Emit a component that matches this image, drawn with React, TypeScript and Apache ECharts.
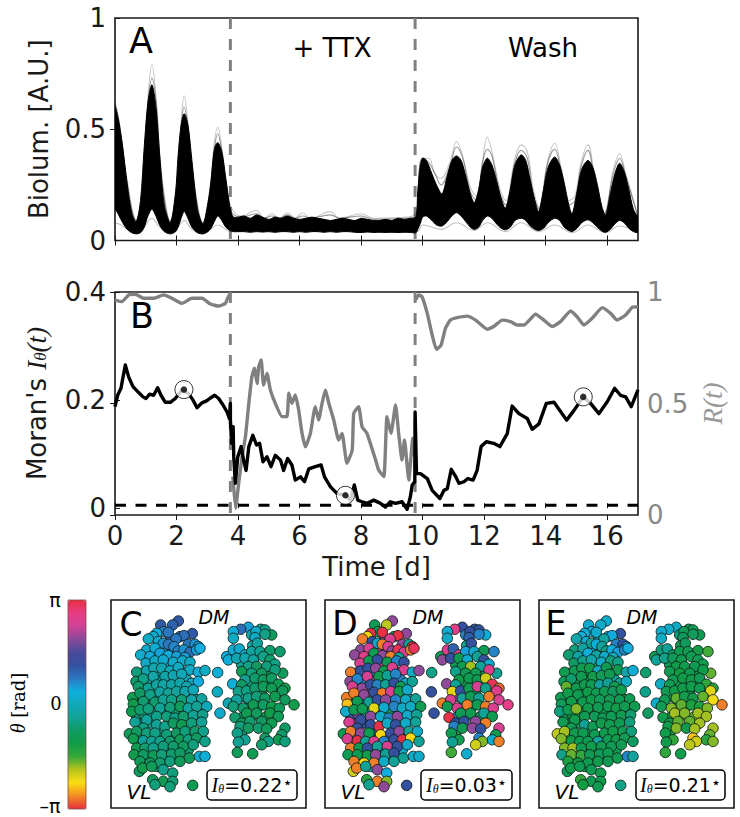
import React, { useEffect, useRef } from "react";
import * as echarts from "echarts";

const dayTicks = [0, 2, 4, 6, 8, 10, 12, 14, 16];
const biolumTicks = [0, 0.5, 1];
const moranTicks = [0, 0.2, 0.4];
const orderTicks = [0, 0.5, 1];
const treatmentBoundaries = [3.75, 9.755];
const moranNull = 0.0056;

const bandTime = [
  0, 0.1, 0.25, 0.4, 0.55, 0.69, 0.83, 0.95, 1.07, 1.2, 1.33, 1.45, 1.6, 1.8, 1.97, 2.05, 2.15, 2.25, 2.37, 2.5, 2.68, 2.86, 3.02, 3.12, 3.23, 3.34, 3.47, 3.6, 3.75, 3.85,
  4.0, 4.2, 4.4, 4.6, 4.8, 5.0, 5.2, 5.4, 5.6, 5.8, 6.0, 6.2, 6.4, 6.6, 6.8, 7.0, 7.2, 7.4, 7.6, 7.8, 8.0, 8.2, 8.4, 8.6, 8.8, 9.0, 9.2, 9.4, 9.6, 9.78,
  9.84, 9.92, 10.0, 10.12, 10.3, 10.45, 10.63, 10.8, 10.95, 11.1, 11.25, 11.4, 11.55, 11.68, 11.82, 11.95, 12.1, 12.25, 12.4, 12.55, 12.69, 12.85, 13.0, 13.2, 13.35, 13.5, 13.65, 13.77, 13.93, 14.08, 14.29, 14.45, 14.6, 14.75, 14.86, 15.02, 15.17, 15.37, 15.53, 15.68, 15.83, 15.95, 16.1, 16.25, 16.4, 16.55, 16.7, 16.85, 17,
];
const bandUpper = [
  0.6, 0.55, 0.42, 0.25, 0.12, 0.085, 0.18, 0.42, 0.62, 0.7, 0.6, 0.39, 0.16, 0.08, 0.22, 0.38, 0.52, 0.57, 0.52, 0.36, 0.14, 0.075, 0.17, 0.27, 0.41, 0.44, 0.4, 0.28, 0.14, 0.105,
  0.105, 0.11, 0.1, 0.115, 0.105, 0.095, 0.105, 0.1, 0.11, 0.1, 0.095, 0.1, 0.105, 0.1, 0.095, 0.09, 0.095, 0.1, 0.095, 0.09, 0.1, 0.095, 0.09, 0.09, 0.095, 0.09, 0.1, 0.095, 0.1, 0.105,
  0.22, 0.33, 0.37, 0.36, 0.3, 0.25, 0.21, 0.29, 0.36, 0.38, 0.36, 0.29, 0.21, 0.17, 0.23, 0.33, 0.37, 0.34, 0.27, 0.19, 0.145, 0.23, 0.34, 0.385, 0.36, 0.27, 0.18, 0.13, 0.23, 0.33, 0.375, 0.34, 0.26, 0.16, 0.12, 0.22, 0.32, 0.36, 0.33, 0.25, 0.15, 0.115, 0.21, 0.3, 0.347, 0.31, 0.23, 0.14, 0.1,
];
const bandLower = [
  0.15, 0.12, 0.08, 0.05, 0.035, 0.03, 0.035, 0.06, 0.11, 0.14, 0.11, 0.07, 0.04, 0.03, 0.04, 0.06, 0.1, 0.13, 0.1, 0.06, 0.035, 0.03, 0.04, 0.055, 0.085, 0.11, 0.09, 0.06, 0.045, 0.04,
  0.04, 0.04, 0.037, 0.04, 0.038, 0.04, 0.037, 0.04, 0.04, 0.037, 0.04, 0.037, 0.04, 0.04, 0.037, 0.04, 0.037, 0.04, 0.04, 0.037, 0.036, 0.038, 0.036, 0.037, 0.036, 0.037, 0.036, 0.037, 0.036, 0.035,
  0.05, 0.075, 0.105, 0.11, 0.09, 0.07, 0.065, 0.085, 0.11, 0.125, 0.11, 0.085, 0.06, 0.05, 0.06, 0.09, 0.11, 0.1, 0.075, 0.055, 0.048, 0.06, 0.09, 0.1, 0.09, 0.065, 0.05, 0.045, 0.055, 0.08, 0.1, 0.09, 0.06, 0.045, 0.04, 0.055, 0.08, 0.093, 0.08, 0.06, 0.042, 0.037, 0.05, 0.075, 0.09, 0.08, 0.055, 0.04, 0.037,
];

const highTraceTime = [0, 0.15, 0.4, 0.69, 0.9, 1.05, 1.2, 1.35, 1.5, 1.8, 2.0, 2.13, 2.25, 2.38, 2.52, 2.86, 3.07, 3.22, 3.34, 3.47, 3.62, 3.78, 4.1, 4.6, 4.85, 5.1, 5.35, 5.6, 5.85, 6.1, 6.35, 7.0, 7.3, 8.0, 8.4, 9.5, 9.8, 9.9, 10.0, 10.2, 10.4, 10.6, 10.9, 11.1, 11.3, 11.55, 11.75, 11.95, 12.1, 12.25, 12.5, 12.7, 13.0, 13.2, 13.4, 13.6, 13.8, 14.05, 14.29, 14.5, 14.75, 14.95, 15.15, 15.37, 15.6, 15.9, 16.2, 16.4, 16.6, 17];
const highTraceA = [0.63, 0.52, 0.27, 0.09, 0.22, 0.6, 0.79, 0.62, 0.32, 0.09, 0.23, 0.5, 0.65, 0.52, 0.32, 0.08, 0.2, 0.43, 0.51, 0.42, 0.26, 0.15, 0.11, 0.135, 0.1, 0.12, 0.1, 0.125, 0.1, 0.125, 0.1, 0.13, 0.1, 0.12, 0.1, 0.105, 0.13, 0.34, 0.37, 0.37, 0.3, 0.28, 0.36, 0.445, 0.38, 0.24, 0.2, 0.36, 0.465, 0.4, 0.24, 0.18, 0.37, 0.43, 0.4, 0.23, 0.15, 0.35, 0.437, 0.33, 0.18, 0.2, 0.35, 0.43, 0.28, 0.12, 0.32, 0.39, 0.3, 0.11];
const highTraceB = [0.61, 0.52, 0.25, 0.09, 0.2, 0.58, 0.73, 0.6, 0.3, 0.085, 0.2, 0.47, 0.6, 0.5, 0.3, 0.08, 0.18, 0.4, 0.48, 0.4, 0.24, 0.13, 0.105, 0.12, 0.1, 0.11, 0.1, 0.115, 0.1, 0.11, 0.1, 0.115, 0.1, 0.11, 0.095, 0.1, 0.11, 0.33, 0.37, 0.35, 0.3, 0.25, 0.34, 0.42, 0.37, 0.22, 0.18, 0.35, 0.41, 0.38, 0.22, 0.16, 0.35, 0.405, 0.37, 0.2, 0.14, 0.34, 0.41, 0.31, 0.16, 0.18, 0.33, 0.405, 0.26, 0.12, 0.3, 0.37, 0.29, 0.105];
const lowTraceTime = [0, 0.2, 0.5, 0.69, 0.9, 1.2, 1.45, 1.8, 2.0, 2.25, 2.5, 2.86, 3.1, 3.35, 3.6, 3.8, 9.82, 10.0, 10.6, 11.1, 11.68, 12.1, 12.69, 13.2, 13.77, 14.29, 14.86, 15.37, 15.95, 16.4, 17];
const lowTrace = [0.08, 0.07, 0.04, 0.03, 0.05, 0.1, 0.06, 0.03, 0.05, 0.09, 0.05, 0.03, 0.05, 0.07, 0.05, 0.04, 0.04, 0.07, 0.05, 0.08, 0.045, 0.08, 0.04, 0.08, 0.04, 0.07, 0.035, 0.07, 0.035, 0.065, 0.035];

const moranTime = [
  0, 0.086, 0.194, 0.335, 0.443, 0.584, 0.769, 0.91, 1.007, 1.126, 1.256, 1.386, 1.495, 1.636, 1.799, 1.961, 2.178, 2.395, 2.536, 2.666, 2.828, 2.991, 3.077, 3.24, 3.37, 3.511, 3.641, 3.717, 3.75, 3.751, 3.79, 3.84, 3.86, 3.912, 3.99, 4.1, 4.18, 4.26, 4.35, 4.48, 4.6, 4.7, 4.81, 4.94, 5.07, 5.21, 5.38, 5.48, 5.61, 5.75, 5.86, 6.03, 6.16, 6.3, 6.51, 6.7, 6.81, 7.0, 7.22, 7.49, 7.65, 7.78, 7.89, 8.03, 8.2, 8.41, 8.63, 8.79, 8.95, 9.12, 9.33, 9.495, 9.6, 9.66, 9.745, 9.755, 9.8, 9.93, 10.15, 10.31, 10.56, 10.69, 10.8, 10.93, 11.07, 11.18, 11.34, 11.47, 11.64, 11.77, 11.9, 12.07, 12.31, 12.51, 12.75, 12.91, 13.13, 13.4, 13.56, 13.78, 14.02, 14.27, 14.68, 14.92, 15.22, 15.46, 15.73, 16.0, 16.24, 16.43, 16.6, 16.78, 17,
];
const moranValues = [
  0.188, 0.209, 0.222, 0.265, 0.243, 0.225, 0.214, 0.206, 0.203, 0.211, 0.209, 0.223, 0.209, 0.196, 0.196, 0.203, 0.219, 0.212, 0.2, 0.186, 0.195, 0.199, 0.203, 0.209, 0.203, 0.191, 0.178, 0.166, 0.194, 0.163, 0.12, 0.151, 0.095, 0.046, 0.095, 0.114, 0.089, 0.07, 0.114, 0.135, 0.117, 0.12, 0.086, 0.095, 0.077, 0.098, 0.089, 0.07, 0.092, 0.08, 0.052, 0.058, 0.049, 0.073, 0.077, 0.08, 0.058, 0.04, 0.027, 0.024, 0.015, 0.043, 0.015, 0.012, 0.009, 0.015, 0.009, 0.002, 0.012, 0.009, 0.012, -0.002, 0.021, 0.043, 0.049, 0.178, 0.064, 0.064, 0.055, 0.033, 0.018, 0.033, 0.036, 0.072, 0.059, 0.046, 0.049, 0.055, 0.052, 0.07, 0.114, 0.123, 0.12, 0.114, 0.138, 0.189, 0.175, 0.166, 0.146, 0.156, 0.194, 0.196, 0.163, 0.181, 0.206, 0.194, 0.175, 0.197, 0.222, 0.209, 0.206, 0.188, 0.219,
];
const orderTime = [
  0, 0.227, 0.443, 0.66, 0.93, 1.256, 1.58, 1.85, 2.18, 2.5, 2.83, 3.1, 3.37, 3.59, 3.66, 3.75, 3.77, 3.83, 3.92, 4.02, 4.13, 4.24, 4.35, 4.45, 4.53, 4.62, 4.67, 4.75, 4.83, 4.94, 5.05, 5.21, 5.43, 5.59, 5.65, 5.75, 5.86, 5.97, 6.08, 6.19, 6.35, 6.51, 6.62, 6.73, 6.84, 6.95, 7.11, 7.27, 7.38, 7.54, 7.71, 7.76, 7.92, 8.03, 8.19, 8.47, 8.57, 8.74, 8.84, 8.97, 9.12, 9.22, 9.33, 9.41, 9.55, 9.68, 9.745, 9.76, 9.77, 9.87, 9.98, 10.15, 10.31, 10.45, 10.6, 10.74, 10.9, 11.12, 11.45, 11.72, 12.1, 12.31, 12.58, 12.86, 13.07, 13.29, 13.67, 13.94, 14.21, 14.48, 14.81, 15.02, 15.24, 15.51, 15.84, 16.11, 16.32, 16.6, 16.81, 17,
];
const orderValues = [
  0.964, 0.957, 0.987, 0.99, 0.972, 0.972, 0.987, 0.972, 0.949, 0.972, 0.972, 0.946, 0.937, 0.949, 0.972, 0.994, null, 0.172, 0.03, 0.142, 0.262, 0.351, 0.501, 0.62, 0.658, 0.59, 0.665, 0.695, 0.583, 0.635, 0.561, 0.501, 0.441, 0.441, 0.546, 0.501, 0.538, 0.471, 0.366, 0.306, 0.366, 0.486, 0.426, 0.501, 0.561, 0.501, 0.426, 0.336, 0.366, 0.232, 0.291, 0.456, 0.486, 0.396, 0.366, 0.247, 0.202, 0.172, 0.441, 0.366, 0.493, 0.366, 0.247, 0.336, 0.157, 0.344, 0.262, null, 0.964, 0.987, 0.979, 0.904, 0.807, 0.743, 0.762, 0.837, 0.874, 0.885, 0.892, 0.874, 0.833, 0.845, 0.874, 0.867, 0.852, 0.852, 0.9, 0.874, 0.845, 0.867, 0.915, 0.889, 0.852, 0.882, 0.93, 0.904, 0.874, 0.897, 0.931, 0.934,
];
const snapshotTime = [2.24, 7.49, 15.22];
const snapshotMoran = [0.2195, 0.024, 0.206];

// cell tuples: position on the slice, then phase in panels C, D, E
const interstitialCells = [
  [512,160,.9,2,.2],[458,205,.2,1.2,.1],[492,192,.6,2.5,.2],[518,200,.6,.7,.1],
  [425,265,-.2,2,-1],[450,272,-.2,-1,-1],[477,262,-.1,.7,-1],[500,245,0,2.5,-1],[525,262,-.1,1.2,-.9],[552,262,0,2,-1],
  [440,295,-.3,.7,-1],[478,288,-.3,2,-1],[508,285,-.2,1.2,-1],[533,282,-.2,3,-1],[560,285,0,.7,-.3],
  [432,318,-.5,1.2,-1],[460,318,-.4,2.5,-1],[495,312,-.3,.15,-1],[525,310,-.3,1.2,-1],[575,325,-.2,-.4,-1],
  [415,350,-.9,-1,-1],[445,350,-.6,.7,-1],[478,338,-.4,2,-1],[505,355,-.5,-1,-1],[530,355,-.6,-.4,-1],[560,358,-.4,.15,-1],[590,345,-.3,.15,-1],
  [410,395,-.6,1.2,-1],[432,388,-.6,2,-1],[458,385,-.5,-.4,-1],[490,382,-.6,1.2,-1],[525,382,-.7,-1,-1],[553,380,-.6,1.2,-1],[598,378,-.3,-.4,-1],
  [420,418,-.5,2.5,-1.1],[455,415,-.4,1.2,-1],[510,410,-.6,2,-1],[535,408,-.8,.7,-1],[590,405,-.5,.15,-1],
  [425,452,-.6,2,-1.4],[485,445,-.5,1.2,-1],[515,458,-.6,3,-1],[570,452,-.6,2,-1],[600,455,-.5,-.4,-1],
  [420,478,-.7,2.5,-1.6],[445,480,-.5,2,-1],[475,500,-.6,-1,-1],[500,497,-.6,1.2,-1],[535,495,-.7,.15,-1],[565,495,-.7,.15,-1],
  [445,522,-.8,-1,-1.3],[497,522,-.6,-.4,-1],[525,520,-.7,1.2,-1],[470,545,-.8,.15,-1],
  [725,240,-.4,-1,-1],[775,262,-.8,-2,-1],[810,262,-.9,-1,-1],[750,300,-.7,-1,-1],[775,298,-.8,-1.1,-1],[805,295,-.9,.2,-1],
  [730,335,-.5,2,-1],[785,325,-.8,-1,-1],[835,320,-.9,-2.8,-1.2],[750,355,-.8,-.4,-1.5],[775,365,-.9,.7,-1.6],[800,395,-1,-1,-1.7],[755,395,-.9,.2,-1.7],[730,395,-.8,.7,-1.2],[725,445,-.6,-1,-1],
];
const leftLobeCells = [
  [535,108,1.1,2,.2],[518,120,1.0,-2,.2],[482,120,1.1,-1,.2],[492,140,.7,-1,.3],[505,142,.8,3.1,.2],[470,145,.4,3.1,.3],[460,155,.2,-2.4,.3],[445,162,.1,-2.8,-.2],[577,146,1.1,2,1.2],[540,155,1,-1,.5],[552,152,.9,3.1,.4],[528,162,.8,2.5,-.3],
  [475,170,.3,1.2,.2],[490,175,.6,.15,-.4],[505,178,.8,-2.8,.3],[522,185,.7,2.5,-.3],[565,178,.8,2,.7],[585,178,.6,-.4,1.2],[595,185,.5,3.1,.7],
  [440,195,.2,2,-.6],[465,190,.3,2.5,-.3],[535,198,.7,2,-.5],[552,195,.6,3,.3],[570,202,.9,2.5,.5],[590,195,.5,-2.8,.7],[600,190,.4,3,.4],
  [422,210,.2,2,-.7],[450,215,.3,2.6,-.2],[480,205,.5,-1,.3],[505,212,.4,2,-.3],[530,215,.5,-2.8,.2],[555,218,.5,-.4,.1],
  [438,235,.15,2.5,-.8],[465,228,.1,-1,-.5],[490,225,.2,1.2,-.2],[520,232,.2,-1,.1],[548,228,.2,.7,-.6],[570,232,.1,1.2,-.5],
  [410,262,-.6,-2.8,-1],[440,258,-.1,1.2,-1],[462,250,-.1,1.2,-1],[485,250,-.1,2,-1.1],[510,258,0,-1,.1],[535,248,.1,2.5,-1],[570,255,.1,2.5,-1],[595,262,.3,.1,-.2],
  [408,290,-.7,2,-.9],[430,282,-.5,.7,-.7],[460,275,-.2,2.5,-1],[495,275,-.2,-1,-1.1],[520,272,-.1,-.4,-.9],[545,268,0,.7,-1],[575,295,.1,.1,-.4],[595,290,.4,-.4,.1],
  [415,305,-.7,2.5,-1.7],[445,310,-.4,2,-1],[470,300,-.3,1.2,-1.1],[490,300,-.2,.7,-1],[515,300,-.2,-.4,-.3],[540,295,-.2,1.2,-.4],[560,305,-.1,-1,-1],
  [398,338,-1,-2.8,-1],[420,325,-.8,-2.8,-1.1],[450,330,-.5,2,-1],[480,322,-.3,1.2,-1.1],[505,325,-.4,-2.8,-1],[530,320,-.3,2.5,-1],[555,320,-.2,-1,-.8],[580,315,0,.15,-1],
  [400,358,-1.1,-2.5,-.9],[430,350,-.7,-1,-1.1],[465,352,-.7,-.4,-1],[490,345,-.4,1.2,-1.1],[515,345,-.5,2,-.9],[545,345,-.6,.7,-1],[575,345,-.2,.15,-1],[605,342,-.3,-.4,-1],
  [395,380,-1,.2,-.6],[420,375,-.7,-1,-1],[445,372,-.6,-1,-1.8],[480,370,-.4,-2.2,-1.1],[510,368,-.6,.2,-1],[540,365,-.9,.7,-1],[565,370,-.3,.15,-1.1],[590,365,-.4,.1,-1],[620,365,0,-1,-1],
  [405,412,-.4,2.5,-1],[440,405,-.3,1.2,-1.1],[470,395,-.5,2,-1],[500,395,-.6,.15,-.9],[525,400,-.5,.7,-1],[550,395,-.7,2,-1],[580,392,-.4,.15,-1],[608,390,-.5,-.4,-.7],
  [430,430,-.5,1.2,-1],[470,420,-.4,1.2,-.4],[495,425,-.5,3.1,-1],[520,415,-.8,.15,-1.1],[545,420,-1,1.2,-1],[575,415,-.6,.15,-1],[605,412,-.4,-.4,-.6],
  [388,447,-.9,-1,-2],[410,440,-.8,-2.8,-1.9],[440,445,-.6,2,-1.1],[465,445,-.5,-1,-1],[500,450,-.6,-2.4,-1],[530,445,-.8,1.2,-1],[555,440,-.6,2,-1.1],[585,440,-.7,-.4,-1],[610,440,-.5,.15,-.6],
  [400,462,-1,2.5,-1.8],[430,468,-.3,3.1,-1.1],[455,470,-.4,-.4,-1],[480,470,-.5,2.5,-1],[510,470,-.7,.7,-.3],[540,465,-.9,1.2,-1],[565,465,-.6,3.1,-1.1],[590,460,-.8,-2.4,-1],[615,470,-.5,-.4,-.8],
  [410,490,-1,-2.8,-1.8],[435,490,-.7,-1,-1.9],[460,490,-.5,1.2,-1],[490,485,-.6,-.4,-1.1],[520,485,-.7,2.5,-1],[550,485,-.8,1.2,-1],[580,480,-.6,.15,-1],
  [402,510,-1.1,-1,-.5],[430,510,-.8,-1,-1.7],[460,512,-.9,-1.1,-1.5],[485,510,-.6,2,-1],[515,508,-.7,-.4,-.9],[540,505,-.8,1.2,-1],[568,520,-.9,-.4,-1],[598,515,.2,.15,.7],[615,515,.3,.15,-.3],
  [420,530,-.9,-2.8,-1.3],[450,535,-.8,-2.4,-1.2],[480,535,-.7,-2.8,-1],[510,530,-.6,.15,-1.1],[540,530,-.9,-.4,-1],
  [418,560,-.8,-2.1,-.9],[428,550,-1.1,-2.8,-1.1],[455,545,-.9,-.4,-1],[490,555,-.5,2,-1],[518,565,-.6,.4,-1.1],
  [458,585,-.8,-1.4,-1.5],[490,590,-1,-2.8,-1],[518,590,-.7,-1.8,-1.1],[465,600,-.6,-.4,-1.2],[510,606,-.6,2,-1],
  [578,602,-1,1.2,-.5],
];
const midlineCells = [
  [615,257,.1,2,.3],[653,263,.3,-.5,-.7],[652,321,.1,1.2,-.5],[660,385,.2,1.2,-.8],
];
const rightLobeCells = [
  [745,127,.5,1.2,.15],[722,133,.9,2.7,.2],[700,140,.3,.2,.2],[782,133,-.4,1.2,-1],[795,135,-.5,1.2,-1],[755,150,-.1,.7,-.6],[768,140,.1,1.2,-.9],[815,150,-.9,.3,-1],[795,148,-.5,.7,-.9],[700,160,.1,.15,.1],[765,158,.1,1,-.8],[758,182,-.2,-.4,-1],[772,175,-.3,1.2,-.9],
  [680,215,.4,-.9,-1],[700,195,.3,2.6,-.6],[718,192,.2,1,-.4],[685,225,.3,2,-.4],[735,210,.2,2.5,-.8],[755,200,-.3,.5,-1],[780,200,-.4,.2,-1],[810,197,-.7,-1,-1.2],[840,200,-.7,.7,-1.6],
  [710,220,-.1,1.2,-.5],[735,220,-.1,-1,-.9],[760,225,-.3,.2,-1],[790,215,-.5,-.4,-1],[810,225,-.7,1.2,-1],[825,238,-.5,.2,-1.1],
  [745,245,-.5,-1,-1.1],[770,245,-.8,-1.9,-1.1],[800,245,-.6,-.4,-1],[725,260,-1,-.5,-1],[755,265,-.6,-1,-1.2],[785,265,-.8,-1,-1],[848,265,-.9,-.4,-1.7],[825,255,-.6,2.6,-1.1],
  [698,297,.3,2,.1],[735,285,-.4,-1.1,-1],[765,280,-.7,-1,-1.1],[790,285,-.9,-1,-1.1],[815,280,-.8,-2.1,-1],[835,298,-1,3,-1.5],[855,310,-1.1,-2.9,-1.4],[725,300,-.8,-.4,-1],
  [715,320,-.5,-2.2,-1],[740,318,-.5,1.2,-1.1],[765,310,-.7,-1,-1.1],[790,305,-.9,2.5,-1.1],[815,310,-1,-.5,-1],[848,318,-.9,2.6,-2.2],
  [685,355,-.1,-2.8,.2],[710,345,-.3,2.5,-1],[745,340,-.5,-.4,-1.7],[770,335,-.6,-1,-1.1],[795,340,-.8,-.4,-1.1],[825,335,-1,-2.8,-1.7],[855,345,-.9,2.5,-2.3],[882,360,-1.1,2.7,-2.8],
  [700,365,-.6,-1,-.9],[730,370,-.7,2.5,-1.8],[760,360,-1,-2.8,-1.7],[790,360,-.8,-1,-1.3],[815,365,-1.1,-2.8,-1.3],[838,370,-.9,2.5,-1.8],
  [705,398,-.7,3.1,-1.1],[740,385,-1,-1,-1.9],[770,385,-.9,-1,-1.8],[810,385,-1.1,-.4,-1.9],[835,395,-.9,-1,-1.9],
  [725,415,-.9,1.2,-1.1],[750,410,-.7,1.2,-1.7],[785,410,-.8,2,-1.7],[815,415,-1,-2.8,-1.9],
  [720,425,-.6,.7,-1.1],[745,430,-.8,-1,-1.8],[775,430,-.7,2,-1.1],[800,432,-.9,1.2,-1.9],[855,430,-.8,2.5,-1.9],[845,450,-.7,-1,-1.7],[835,465,-1,.2,-1.4],[855,470,-.6,-2.8,-1.8],
  [712,445,-.5,-1,-1.1],[735,465,-.4,-1,-1.5],[715,472,-.4,-.4,-1.1],[795,460,-.8,.7,-2.5],[805,470,-.5,-1.8,-2.1],[785,480,-.7,-2.1,-2],
  [712,503,-.9,-1.6,-1.5],[758,507,-1,.2,-1.1],
];
const allCells = [...interstitialCells, ...leftLobeCells, ...midlineCells, ...rightLobeCells];

const phaseColors = ["#e8303f","#f28a25","#fbdf10","#b8c41c","#38a83a","#109c45","#109a62","#12a296","#10a8b8","#10aee0","#2b78c0","#33509f","#4a4a9c","#8a4a9a","#d04296","#e83c85","#e8303f"];

const INK = "#1a1a1a";
const SANS = "DejaVu Sans";
const SERIF = "Liberation Serif";
const pair = (x: number[], y: (number | null)[]) => x.map((t, i) => [t, y[i]]);

function renderBundle(params: any, api: any) {
  if (params.dataIndex !== 0) return null;
  const upper = bandTime.map((t, i) => api.coord([t, bandUpper[i]]));
  const lower = bandTime.map((t, i) => api.coord([t, bandLower[i]])).reverse();
  return {
    type: "polygon",
    shape: { points: [...upper, ...lower], smooth: 0.3 },
    style: { fill: "#000", stroke: "#000", lineWidth: 1 },
  };
}

function buildOption() {
  const frame = { show: true, borderColor: INK, borderWidth: 1.6, backgroundColor: "#fff" };
  const grid = [
    { ...frame, left: 115, top: 18, width: 523, height: 222.5 },
    { ...frame, left: 115, top: 292, width: 523, height: 223 },
    { ...frame, left: 111, top: 600, width: 195, height: 208 },
    { ...frame, left: 325, top: 600, width: 195, height: 208 },
    { ...frame, left: 539, top: 600, width: 195, height: 208 },
  ];
  const timeAxis = (gridIndex: number, position: string, labelled: boolean) => ({
    type: "value", gridIndex, position, min: 0, max: 17,
    splitLine: { show: false }, axisLine: { show: false },
    axisTick: { show: true, inside: true, length: 5, customValues: dayTicks, lineStyle: { color: INK, width: 1 } },
    axisLabel: { show: labelled, customValues: dayTicks, margin: 8, color: INK, fontSize: 26, fontFamily: SANS },
  });
  const panelX = (gridIndex: number) => ({ type: "value", gridIndex, min: 333, max: 918, show: false });
  const panelY = (gridIndex: number) => ({ type: "value", gridIndex, min: 45, max: 670, inverse: true, show: false });
  const xAxis = [
    timeAxis(0, "bottom", false), timeAxis(0, "top", false),
    { ...timeAxis(1, "bottom", true), name: "Time [d]", nameLocation: "middle", nameGap: 39, nameTextStyle: { fontSize: 26, fontFamily: SANS, color: INK } },
    timeAxis(1, "top", false),
    panelX(2), panelX(3), panelX(4),
  ];
  const yTick = (values: number[]) => ({ show: true, inside: true, length: 5, customValues: values, lineStyle: { color: INK, width: 1 } });
  const yAxis = [
    { type: "value", gridIndex: 0, min: 0, max: 1, splitLine: { show: false }, axisLine: { show: false }, axisTick: yTick(biolumTicks),
      axisLabel: { customValues: biolumTicks, margin: 9, color: INK, fontSize: 26, fontFamily: SANS },
      name: "Biolum. [A.U.]", nameLocation: "middle", nameRotate: 90, nameGap: 63, nameTextStyle: { fontSize: 26, fontFamily: SANS, color: INK } },
    { type: "value", gridIndex: 0, position: "right", min: 0, max: 1, splitLine: { show: false }, axisLine: { show: false }, axisLabel: { show: false }, axisTick: yTick([0.5]) },
    { type: "value", gridIndex: 1, min: -0.0125, max: 0.4, splitLine: { show: false }, axisLine: { show: false }, axisTick: yTick(moranTicks),
      axisLabel: { customValues: moranTicks, margin: 9, color: INK, fontSize: 26, fontFamily: SANS },
      name: "{a|Moran's }{i|I}{s|θ}{i|(t)}", nameLocation: "middle", nameRotate: 90, nameGap: 65,
      nameTextStyle: { rich: { a: { fontSize: 26, fontFamily: SANS, color: INK }, i: { fontSize: 27, fontFamily: SERIF, fontStyle: "italic", color: INK }, s: { fontSize: 17, fontFamily: SERIF, fontStyle: "italic", color: INK, padding: [8, 0, 0, 0] } } } },
    { type: "value", gridIndex: 1, position: "right", min: 0, max: 1, splitLine: { show: false }, axisLine: { show: false }, axisTick: yTick(orderTicks),
      axisLabel: { customValues: orderTicks, margin: 9, color: "#888", fontSize: 26, fontFamily: SANS },
      name: "R(t)", nameLocation: "middle", nameRotate: 90, nameGap: 52, nameTextStyle: { fontSize: 27, fontFamily: SERIF, fontStyle: "italic", color: "#999" } },
    panelY(2), panelY(3), panelY(4),
  ];
  const vline = (t: number, xAxisIndex: number, yAxisIndex: number, lo: number, hi: number) => ({
    type: "line", xAxisIndex, yAxisIndex, silent: true, symbol: "none", z: 1,
    data: [[t, hi], [t, lo]],
    lineStyle: { color: "#808080", width: 3, type: [11, 10] },
  });
  const thin = (t: number[], v: number[], alpha: number) => ({
    type: "line", xAxisIndex: 0, yAxisIndex: 0, symbol: "none", smooth: 0.4, silent: true, z: 2,
    data: pair(t, v), lineStyle: { color: `rgba(0,0,0,${alpha})`, width: 1.1 },
  });
  const series: any[] = [
    ...treatmentBoundaries.map((t) => vline(t, 0, 0, 0, 1)),
    ...treatmentBoundaries.map((t) => vline(t, 2, 3, 0, 1)),
    thin(highTraceTime, highTraceA, 0.22),
    thin(highTraceTime, highTraceB, 0.4),
    thin(lowTraceTime, lowTrace, 0.25),
    { type: "custom", name: "bundle", xAxisIndex: 0, yAxisIndex: 0, silent: true, z: 3, clip: true,
      renderItem: renderBundle, encode: { x: 0, y: 1 }, data: pair(bandTime, bandUpper) },
    { type: "line", name: "R", xAxisIndex: 2, yAxisIndex: 3, symbol: "none", silent: true, z: 3, smooth: 0.15,
      data: pair(orderTime, orderValues), lineStyle: { color: "#808080", width: 3.4, join: "round" } },
    { type: "line", name: "null", xAxisIndex: 2, yAxisIndex: 2, symbol: "none", silent: true, z: 3,
      data: [[0, moranNull], [17, moranNull]], lineStyle: { color: "#000", width: 3, type: [11, 9.5] } },
    { type: "line", name: "Moran", xAxisIndex: 2, yAxisIndex: 2, symbol: "none", silent: true, z: 4,
      data: pair(moranTime, moranValues), lineStyle: { color: "#000", width: 3.4, join: "round" } },
    { type: "scatter", xAxisIndex: 2, yAxisIndex: 2, symbol: "circle", symbolSize: 18, silent: true, z: 5,
      data: pair(snapshotTime, snapshotMoran), itemStyle: { color: "#fff", borderColor: "#000", borderWidth: 1 } },
    { type: "scatter", xAxisIndex: 2, yAxisIndex: 2, symbol: "circle", symbolSize: 6.5, silent: true, z: 6,
      data: pair(snapshotTime, snapshotMoran), itemStyle: { color: "#000" } },
  ];
  const firstPanel = series.length;
  [2, 3, 4].forEach((phaseColumn, p) => {
    series.push({
      type: "scatter", xAxisIndex: 4 + p, yAxisIndex: 4 + p, symbol: "circle", symbolSize: 10.5, silent: true, z: 3,
      data: allCells.map((c) => [c[0], c[1], c[phaseColumn]]),
      itemStyle: { borderColor: "rgba(15,30,25,0.85)", borderWidth: 1, opacity: 1 },
    });
  });
  const label = (text: string, x: number, y: number, fontSize: number, extra: any = {}) => ({
    type: "text", x, y, z: 20, silent: true,
    style: { text, fontSize, fontFamily: SANS, fill: "#000", textAlign: "center", textVerticalAlign: "middle", ...extra },
  });
  const inset = (x: number, w: number, value: string) => [
    { type: "rect", z: 19, silent: true, shape: { x, y: 770, width: w, height: 30, r: 4 }, style: { fill: "#fff", stroke: "#000", lineWidth: 1.5 } },
    { type: "text", z: 20, silent: true, x: x + w / 2, y: 785,
      style: { text: `{i|I}{s|θ}{a|=${value}}{t|⋆}`, textAlign: "center", textVerticalAlign: "middle",
        rich: { i: { fontFamily: SERIF, fontStyle: "italic", fontSize: 20, fill: "#000" }, s: { fontFamily: SERIF, fontStyle: "italic", fontSize: 12, fill: "#000", padding: [7, 0, 0, 0] }, a: { fontFamily: SANS, fontSize: 19, fill: "#000" }, t: { fontFamily: SANS, fontSize: 16, fill: "#000", padding: [0, 0, 6, 0] } } } },
  ];
  const italic = { fontStyle: "italic" };
  const graphic = [
    label("A", 141, 41, 35),
    label("B", 142, 316, 35),
    label("+ TTX", 332, 48, 26),
    label("Wash", 543, 48, 26),
    label("C", 131, 624, 33), label("D", 345, 623, 33), label("E", 556, 623, 33),
    label("DM", 214, 617, 19, italic), label("DM", 428, 617, 19, italic), label("DM", 642, 617, 19, italic),
    label("VL", 139, 792, 20, italic), label("VL", 353, 792, 20, italic), label("VL", 567, 792, 20, italic),
    ...inset(207, 90, "0.22"), ...inset(421, 91, "0.03"), ...inset(636, 89, "0.21"),
    { type: "rect", z: 19, silent: true, shape: { x: 68, y: 600, width: 18, height: 209 }, style: { fill: "none", stroke: "#7a4a4a", lineWidth: 0.8 } },
    label("π", 55, 600, 19),
    label("0", 56, 703, 18, { fontFamily: "DejaVu Serif" }),
    label("–π", 50, 806, 19),
    { type: "text", z: 20, silent: true, x: 18, y: 703, rotation: Math.PI / 2,
      style: { text: "{i|θ}{a| [rad]}", textAlign: "center", textVerticalAlign: "middle",
        rich: { i: { fontFamily: SERIF, fontStyle: "italic", fontSize: 20, fill: "#000" }, a: { fontFamily: "DejaVu Serif", fontSize: 18, fill: "#000" } } } },
  ];
  return {
    animation: false,
    backgroundColor: "#fff",
    grid, xAxis, yAxis, series, graphic,
    visualMap: {
      type: "continuous", show: true, calculable: false, hoverLink: false, min: -Math.PI, max: Math.PI, dimension: 2,
      seriesIndex: [firstPanel, firstPanel + 1, firstPanel + 2],
      left: 68, top: 600, itemWidth: 18, itemHeight: 209, padding: 0, text: [], showLabel: false,
      inRange: { color: phaseColors },
    },
  };
}

export default function App() {
  const ref = useRef<HTMLDivElement>(null);
  useEffect(() => {
    document.body.style.margin = "0";
    const chart = echarts.init(ref.current!, undefined, { renderer: "svg" });
    chart.setOption(buildOption() as any);
    return () => chart.dispose();
  }, []);
  return <div ref={ref} style={{ width: 740, height: 817 }} />;
}
